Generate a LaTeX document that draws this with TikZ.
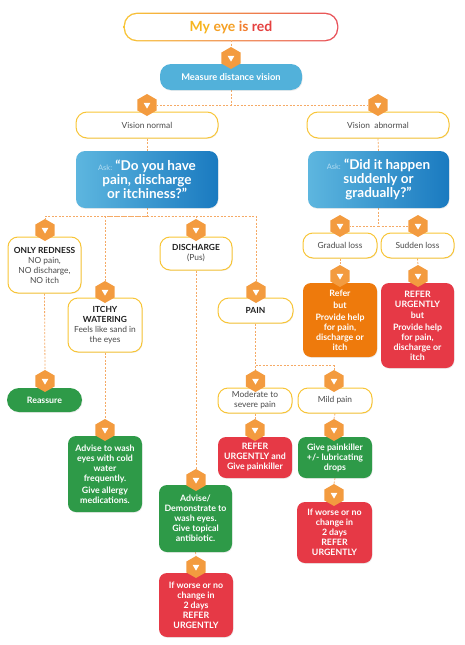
\documentclass[tikz,border=0pt]{standalone}
\usepackage{fontspec}
\setmainfont{Lato}
\usetikzlibrary{shapes.geometric,shadows,backgrounds}
\definecolor{hexor}{HTML}{F39B3F}
\definecolor{dashc}{HTML}{F5AA66}
\definecolor{ybord}{HTML}{F8C537}
\definecolor{mblue}{HTML}{52B1DA}
\definecolor{askl}{HTML}{5DB6DF}
\definecolor{askr}{HTML}{1A7AC0}
\definecolor{grn}{HTML}{2E9A48}
\definecolor{rd}{HTML}{E63946}
\definecolor{orb}{HTML}{EE7A0C}
\definecolor{tdark}{HTML}{1E1E1E}
\definecolor{tgray}{HTML}{4A4A4A}
\definecolor{asklight}{HTML}{B5DDF2}
\definecolor{tA}{HTML}{F7B51E}
\definecolor{tB}{HTML}{F5A024}
\definecolor{tC}{HTML}{F17E30}
\definecolor{tD}{HTML}{E5403F}
\definecolor{bL}{HTML}{F8C537}
\definecolor{bR}{HTML}{E8505A}
\tikzset{
  sz/.style 2 args={minimum width=#1, minimum height=#2},
  shd/.style={drop shadow={opacity=0.15, shadow xshift=0.6pt, shadow yshift=-0.9pt}},
  wb/.style={draw=ybord, line width=1pt, fill=white, rounded corners=10pt, align=center,
    inner sep=1pt, text=tgray, font=\fontsize{8.4}{10}\selectfont, shd},
  cb/.style={rounded corners=8pt, align=center, inner sep=1pt, text=white,
    font=\bfseries\fontsize{8.8}{10}\selectfont, shd},
  gbox/.style={cb, fill=grn},
  rbox/.style={cb, fill=rd},
  obox/.style={cb, fill=orb},
  askbox/.style={rounded corners=9pt, left color=askl, right color=askr, align=center,
    inner sep=1pt, text=white, font=\bfseries\fontsize{13.5}{14.2}\selectfont, shd},
  hexm/.style={regular polygon, regular polygon sides=6, shape border rotate=30, fill=hexor,
    minimum size=22pt, inner sep=0pt, path picture={
      \fill[white] ([xshift=-3.4pt,yshift=2.2pt]path picture bounding box.center)
        -- ([xshift=3.4pt,yshift=2.2pt]path picture bounding box.center)
        -- ([yshift=-3.6pt]path picture bounding box.center) -- cycle;}},
  conn/.style={draw=dashc, line width=0.8pt, dash pattern=on 2pt off 1.5pt},
}
\newcommand{\asklbl}{{\fontsize{7.5}{8}\mdseries\selectfont\color{asklight}Ask:}}
\begin{document}
\begin{tikzpicture}[x=1pt,y=-1pt]
\useasboundingbox (0,0) rectangle (465,645);
% ---- boxes ----
\node[fill=white, rounded corners=12pt, sz={212pt}{26pt}, inner sep=0pt,
  font=\bfseries\fontsize{14}{16}\selectfont] (title) at (231,27)
  {\color{tA}My \color{tB}eye \color{tC}is \color{tD}red};
\node[fill=mblue, rounded corners=11pt, sz={142pt}{26pt}, text=white, inner sep=1pt,
  font=\bfseries\fontsize{9.3}{11}\selectfont, shd] (measure) at (231,77) {Measure distance vision};
\node[wb, sz={142pt}{26pt}, rounded corners=11pt] (vnorm) at (147,125) {Vision normal};
\node[wb, sz={142pt}{26pt}, rounded corners=11pt] (vabn) at (378,125) {Vision~ abnormal};
\node[askbox, sz={142pt}{57pt}] (askL) at (147,179.5)
  {\asklbl\ “Do you have\\pain, discharge\\or itchiness?”};
\node[askbox, sz={141pt}{57pt}] (askR) at (378.5,179.5)
  {\asklbl\ “Did it happen\\suddenly or\\gradually?”};
\node[wb, sz={73pt}{56pt}] (redness) at (44.5,265)
  {\textbf{\textcolor{tdark}{ONLY REDNESS}}\\NO pain,\\NO discharge,\\NO itch};
\node[wb, sz={72pt}{33pt}] (discharge) at (196,253.5)
  {\textbf{\textcolor{tdark}{DISCHARGE}}\\(Pus)};
\node[wb, sz={74pt}{54pt}] (itchy) at (105,325)
  {\textbf{\textcolor{tdark}{ITCHY}}\\\textbf{\textcolor{tdark}{WATERING}}\\Feels like sand in\\the eyes};
\node[wb, sz={75pt}{25pt}, rounded corners=11pt] (pain) at (255.5,310.5)
  {\textbf{\textcolor{tdark}{PAIN}}};
\node[gbox, sz={75pt}{24pt}, rounded corners=12pt] (reassure) at (44.5,400) {Reassure};
\node[gbox, sz={74pt}{76pt}] (advwash) at (105,474)
  {Advise to wash\\eyes with cold\\water\\frequently.\\[2pt]Give allergy\\medications.};
\node[gbox, sz={73pt}{67pt}] (demo) at (195.5,518.5)
  {Advise/\\Demonstrate to\\wash eyes.\\Give topical\\antibiotic.};
\node[rbox, sz={74pt}{64pt}] (iw1) at (196,605)
  {If worse or no\\change in\\2 days\\REFER\\URGENTLY};
\node[wb, sz={74pt}{25pt}] (mod) at (255,400.5) {Moderate to\\severe pain};
\node[wb, sz={74pt}{25pt}] (mild) at (335,400.5) {Mild pain};
\node[rbox, sz={74pt}{41pt}] (ru) at (255,457.5) {REFER\\URGENTLY and\\Give painkiller};
\node[gbox, sz={74pt}{41pt}] (gp) at (335,457.5) {Give painkiller\\+/- lubricating\\drops};
\node[rbox, sz={75pt}{61pt}] (iw2) at (334.5,532.5)
  {If worse or no\\change in\\2 days\\REFER\\URGENTLY};
\node[wb, sz={74pt}{25pt}] (grad) at (340,245.5) {Gradual loss};
\node[wb, sz={73pt}{25pt}] (sud) at (417.5,245.5) {Sudden loss};
\node[obox, sz={74pt}{74pt}] (refer) at (340,320)
  {Refer\\[2pt]but\\[2pt]Provide help\\for pain,\\discharge or\\itch};
\node[rbox, sz={73pt}{85pt}] (ru2) at (417.5,325.5)
  {REFER\\URGENTLY\\[1pt]but\\[2pt]Provide help\\for pain,\\discharge or\\itch};
% ---- hexagon markers ----
\node[hexm] (h0) at (231,58) {};
\node[hexm] (hVN) at (147,105) {};
\node[hexm] (hVA) at (378,105) {};
\node[hexm] (hRed) at (45,230) {};
\node[hexm] (hDis) at (196,230) {};
\node[hexm] (hItch) at (105,292) {};
\node[hexm] (hPain) at (256,292) {};
\node[hexm] (hReas) at (45,381) {};
\node[hexm] (hAdv) at (105,430) {};
\node[hexm] (hDemo) at (196,480) {};
\node[hexm] (hIW1) at (196,567) {};
\node[hexm] (hMod) at (255.5,381) {};
\node[hexm] (hMild) at (334,381) {};
\node[hexm] (hRU) at (255,430) {};
\node[hexm] (hGP) at (334,430) {};
\node[hexm] (hIW2) at (334,495) {};
\node[hexm] (hGrad) at (340,226) {};
\node[hexm] (hSud) at (418,226) {};
\node[hexm] (hRef) at (340,276) {};
\node[hexm] (hRU2) at (418,276) {};
% ---- connectors and title border ----
\path (askL.south) ++(0,8) coordinate (busL);
\path (pain.south) ++(0,42) coordinate (busP);
\begin{scope}[on background layer]
  \shade[left color=bL, right color=bR, rounded corners=13pt]
    ([shift={(-1.1pt,1.1pt)}]title.north west) rectangle ([shift={(1.1pt,-1.1pt)}]title.south east);
  \draw[conn] (title.south) -- (h0.north);
  \draw[conn] (measure.south) |- (hVN);
  \draw[conn] (measure.south) |- (hVA);
  \draw[conn] (vnorm.south) -- (askL.north);
  \draw[conn] (vabn.south) -- (askR.north);
  \draw[conn] (askL.south) -- (busL) -| (hRed.north);
  \draw[conn] (busL) -| (hItch.north);
  \draw[conn] (busL) -| (hDis.north);
  \draw[conn] (busL) -| (hPain.north);
  \draw[conn] (redness.south) -- (hReas.north);
  \draw[conn] (itchy.south) -- (hAdv.north);
  \draw[conn] (discharge.south) -- (hDemo.north);
  \draw[conn] (demo.south) -- (hIW1.north);
  \draw[conn] (pain.south) -- (hMod.north);
  \draw[conn] (busP) -| (hMild.north);
  \draw[conn] (mod.south) -- (hRU.north);
  \draw[conn] (mild.south) -- (hGP.north);
  \draw[conn] (gp.south) -- (hIW2.north);
  \draw[conn] (askR.south) |- (hGrad);
  \draw[conn] (askR.south) |- (hSud);
  \draw[conn] (grad.south) -- (hRef.north);
  \draw[conn] (sud.south) -- (hRU2.north);
\end{scope}
\end{tikzpicture}
\end{document}
